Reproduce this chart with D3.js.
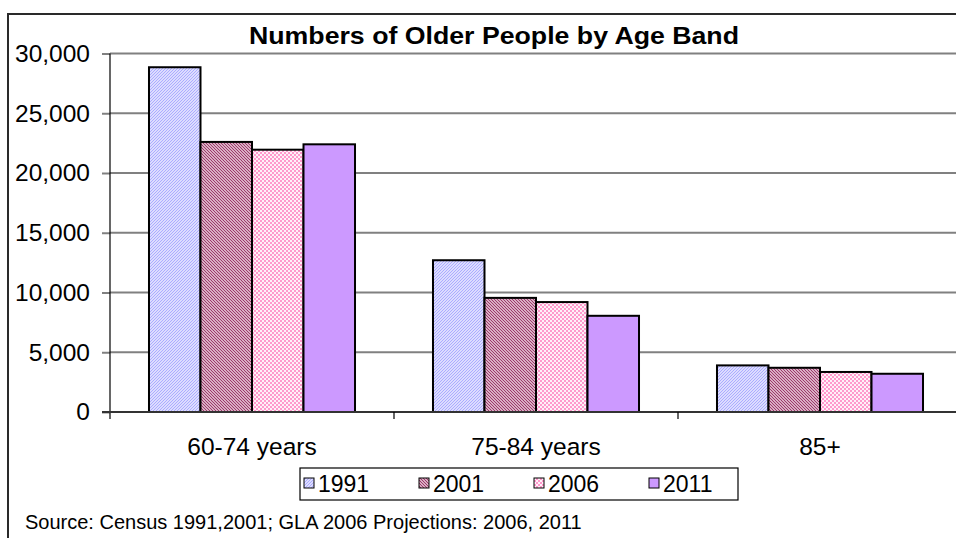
<!DOCTYPE html>
<html>
<head>
<meta charset="utf-8">
<script src="https://cdn.jsdelivr.net/npm/d3@7"></script>
<style>
  html, body { margin: 0; padding: 0; background: #fff; }
  svg { display: block; font-family: "Liberation Sans", Arial, sans-serif; }
</style>
</head>
<body>
<svg id="chart" width="956" height="538"></svg>
<script>
// Age bands and census / projection years
const categories = ["60-74 years", "75-84 years", "85+"];
const years = ["1991", "2001", "2006", "2011"];

// Numbers of older people per age band, one array per year
const values1991 = [28850, 12700, 3900];
const values2001 = [22600, 9550, 3700];
const values2006 = [21950, 9200, 3350];
const values2011 = [22400, 8050, 3200];

const yTicks = [0, 5000, 10000, 15000, 20000, 25000, 30000];

const seriesValues = [values1991, values2001, values2006, values2011];
const rows = [];
categories.forEach((c, i) => {
  years.forEach((y, j) => rows.push({ category: c, year: y, value: seriesValues[j][i] }));
});

const svg = d3.select("#chart");
const plot = { left: 110, right: 962, top: 53.5, bottom: 412 };

// Fill patterns per year
const defs = svg.append("defs");
const p1 = defs.append("pattern").attr("id", "fill-1991").attr("patternUnits", "userSpaceOnUse")
  .attr("width", 3).attr("height", 3);
p1.append("rect").attr("width", 3).attr("height", 3).attr("fill", "#f2f2ff");
p1.append("path").attr("d", "M-1,1 L1,-1 M0,3 L3,0 M2,4 L4,2")
  .attr("stroke", "#a8a8ff").attr("stroke-width", 1.1);

const p2 = defs.append("pattern").attr("id", "fill-2001").attr("patternUnits", "userSpaceOnUse")
  .attr("width", 3).attr("height", 3);
p2.append("rect").attr("width", 3).attr("height", 3).attr("fill", "#f6e6ee");
p2.append("path").attr("d", "M-1,2 L1,4 M0,0 L3,3 M2,-1 L4,1")
  .attr("stroke", "#993366").attr("stroke-width", 1.2);

const p3 = defs.append("pattern").attr("id", "fill-2006").attr("patternUnits", "userSpaceOnUse")
  .attr("width", 4).attr("height", 4);
p3.append("rect").attr("width", 4).attr("height", 4).attr("fill", "#fff0f8");
p3.append("rect").attr("x", 0).attr("y", 0).attr("width", 2).attr("height", 2).attr("fill", "#ff99cc");
p3.append("rect").attr("x", 2).attr("y", 2).attr("width", 2).attr("height", 2).attr("fill", "#ff99cc");

const fills = { "1991": "url(#fill-1991)", "2001": "url(#fill-2001)", "2006": "url(#fill-2006)", "2011": "#cc99ff" };

// Scales
const y = d3.scaleLinear().domain([0, 30000]).range([plot.bottom, plot.top]);
const x0 = d3.scaleBand().domain(categories).range([plot.left, plot.right]).paddingInner(0).paddingOuter(0);
const x1 = d3.scaleBand().domain(years).range([0, x0.bandwidth()]).paddingInner(0).paddingOuter(0.757);

// Outer chart frame (top and left edges visible)
svg.append("rect").attr("x", 8).attr("y", 14).attr("width", 1000).attr("height", 600)
  .attr("fill", "none").attr("stroke", "#2a2a2a").attr("stroke-width", 2);

// Gridlines
svg.append("g").selectAll("line").data(yTicks.filter(d => d > 0)).join("line")
  .attr("x1", plot.left).attr("x2", 956)
  .attr("y1", d => y(d)).attr("y2", d => y(d))
  .attr("stroke", "#808080").attr("stroke-width", 2);

// Y axis
const yAxis = svg.append("g").attr("transform", `translate(${plot.left},0)`)
  .call(d3.axisLeft(y).tickValues(yTicks).tickFormat(d3.format(",")).tickSize(8).tickPadding(12));
yAxis.select(".domain").remove();
yAxis.selectAll(".tick line").attr("stroke", "#808080").attr("stroke-width", 2);
yAxis.selectAll(".tick text").attr("font-size", 24.5).attr("fill", "#000")
  .attr("font-family", "Liberation Sans, Arial, sans-serif");
svg.append("line").attr("x1", plot.left).attr("x2", plot.left)
  .attr("y1", plot.top).attr("y2", plot.bottom + 7).attr("stroke", "#000").attr("stroke-width", 1.2);

// Bars
svg.append("g").selectAll("rect").data(rows).join("rect")
  .attr("x", d => x0(d.category) + x1(d.year))
  .attr("y", d => y(d.value))
  .attr("width", x1.bandwidth())
  .attr("height", d => y(0) - y(d.value))
  .attr("fill", d => fills[d.year])
  .attr("stroke", "#000").attr("stroke-width", 2);

// Baseline and category ticks
svg.append("line").attr("x1", plot.left - 8).attr("x2", 956)
  .attr("y1", plot.bottom).attr("y2", plot.bottom).attr("stroke", "#333").attr("stroke-width", 2);
svg.append("g").selectAll("line").data(categories.slice(1)).join("line")
  .attr("x1", d => x0(d)).attr("x2", d => x0(d))
  .attr("y1", plot.bottom).attr("y2", plot.bottom + 7)
  .attr("stroke", "#000").attr("stroke-width", 1.2);

// Category labels
svg.append("g").selectAll("text").data(categories).join("text")
  .attr("x", d => x0(d) + x0.bandwidth() / 2).attr("y", 455)
  .attr("text-anchor", "middle").attr("font-size", 24.5).attr("fill", "#000")
  .text(d => d);

// Title
svg.append("text").attr("x", 494).attr("y", 44).attr("text-anchor", "middle")
  .attr("font-size", 24).attr("font-weight", "bold").attr("fill", "#000")
  .attr("textLength", 490).attr("lengthAdjust", "spacingAndGlyphs")
  .text("Numbers of Older People by Age Band");

// Legend
const legend = svg.append("g");
legend.append("rect").attr("x", 300).attr("y", 468).attr("width", 438).attr("height", 32)
  .attr("fill", "#fff").attr("stroke", "#000").attr("stroke-width", 1.2);
const item = legend.selectAll("g").data(years).join("g")
  .attr("transform", (d, i) => `translate(${304 + i * 115},0)`);
item.append("rect").attr("x", 0).attr("y", 478).attr("width", 10).attr("height", 10)
  .attr("fill", d => fills[d]).attr("stroke", "#000").attr("stroke-width", 1);
item.append("text").attr("x", 14).attr("y", 492).attr("font-size", 23).attr("fill", "#000")
  .text(d => d);

// Source note
svg.append("text").attr("x", 25).attr("y", 529).attr("font-size", 20).attr("fill", "#000")
  .text("Source: Census 1991,2001; GLA 2006 Projections: 2006, 2011");
</script>
</body>
</html>
